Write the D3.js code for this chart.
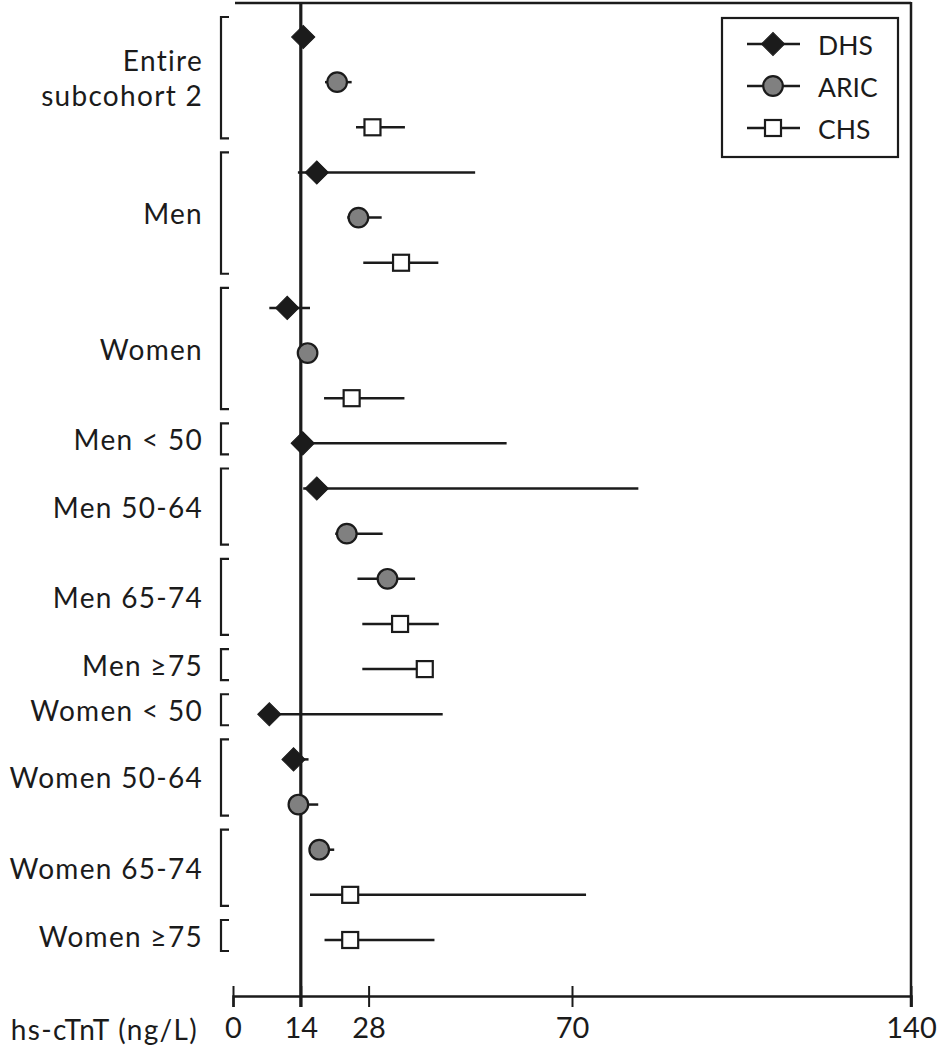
<!DOCTYPE html>
<html>
<head>
<meta charset="utf-8">
<script src="https://cdn.jsdelivr.net/npm/d3@7"></script>
<style>
  html, body { margin: 0; padding: 0; background: #fff; }
  svg { display: block; font-family: Lato, "Open Sans", sans-serif; }
</style>
</head>
<body>
<svg id="chart" width="946" height="1050"></svg>
<script>
// ---- data ----
const series = ["DHS", "ARIC", "CHS"];
const groups = ["Entire|subcohort 2", "Men", "Women", "Men < 50", "Men 50-64", "Men 65-74", "Men ≥75",
                "Women < 50", "Women 50-64", "Women 65-74", "Women ≥75"];
const rowGroup  = [0,0,0, 1,1,1, 2,2,2, 3, 4,4, 5,5, 6, 7, 8,8, 9,9, 10];
const rowSeries = ["DHS","ARIC","CHS", "DHS","ARIC","CHS", "DHS","ARIC","CHS", "DHS",
                   "DHS","ARIC", "ARIC","CHS", "CHS", "DHS", "DHS","ARIC", "ARIC","CHS", "CHS"];
const estimate  = [14.5,21.5,28.8, 17.3,25.9,34.7, 11.2,15.4,24.5, 14.4,
                   17.3,23.5, 31.9,34.5, 39.6, 7.5, 12.5,13.5, 17.8,24.2, 24.2];
const lower     = [13.5,19.0,25.4, 13.4,23.6,26.9, 7.5,14.5,18.8, 14.4,
                   14.5,21.1, 25.7,26.7, 26.7, 7.5, 11.8,12.5, 16.5,15.9, 18.9];
const upper     = [15.5,24.5,35.5, 50.0,30.7,42.4, 15.9,16.5,35.4, 56.5,
                   83.7,30.9, 37.6,42.5, 39.6, 43.3, 15.6,17.6, 20.9,72.9, 41.6];
const tickValues = [0, 14, 28, 70, 140];
const refValue = 14;
const axisTitle = "hs-cTnT (ng/L)";

// ---- layout ----
const ink = "#1b1b1b";
const labelFont = 28, labelSpacing = 1.3;
const svg = d3.select("#chart");
const x = d3.scaleLinear().domain([0, 140]).range([233, 911]);
const y = d3.scalePoint().domain(d3.range(rowGroup.length)).range([37, 940]);
const plotTop = 3, axisY = 996;

function drawMarker(g, s) {
  if (s === "DHS") {
    g.append("rect").attr("x", -8.2).attr("y", -8.2).attr("width", 16.4).attr("height", 16.4)
      .attr("transform", "rotate(45)").attr("fill", ink).attr("stroke", ink).attr("stroke-width", 1);
  } else if (s === "ARIC") {
    g.append("circle").attr("r", 9.8).attr("fill", "#808080").attr("stroke", ink).attr("stroke-width", 2.2);
  } else {
    g.append("rect").attr("x", -8).attr("y", -8).attr("width", 16).attr("height", 16)
      .attr("fill", "#fff").attr("stroke", ink).attr("stroke-width", 2.2);
  }
}

// frame: top and right
svg.append("line").attr("x1", x(0) + 2).attr("x2", x(140)).attr("y1", plotTop).attr("y2", plotTop)
  .attr("stroke", ink).attr("stroke-width", 2.5);
svg.append("line").attr("x1", x(140)).attr("x2", x(140)).attr("y1", plotTop - 1).attr("y2", axisY + 11)
  .attr("stroke", ink).attr("stroke-width", 2.5);

// axis
const axisG = svg.append("g").attr("transform", `translate(0,${axisY})`)
  .call(d3.axisBottom(x).tickValues(tickValues).tickSizeOuter(0).tickSize(11).tickPadding(10));
axisG.select(".domain").attr("stroke", ink).attr("stroke-width", 2.5);
axisG.selectAll(".tick line").attr("y1", -10).attr("y2", 11).attr("stroke", ink).attr("stroke-width", 2);
axisG.selectAll(".tick text").attr("font-size", 29).attr("fill", ink)
  .attr("font-family", "Lato, sans-serif");
svg.append("text").attr("x", 198).attr("y", 1029).attr("text-anchor", "end")
  .attr("dominant-baseline", "central").attr("font-size", labelFont)
  .attr("letter-spacing", labelSpacing).attr("fill", ink).text(axisTitle);

// reference line
svg.append("line").attr("x1", x(refValue)).attr("x2", x(refValue)).attr("y1", plotTop).attr("y2", axisY + 11)
  .attr("stroke", ink).attr("stroke-width", 3.2);

// brackets and group labels
groups.forEach((name, gi) => {
  const rows = d3.range(rowGroup.length).filter(i => rowGroup[i] === gi);
  const top = y(rows[0]) - 20, bot = y(rows[rows.length - 1]) + 11;
  svg.append("path")
    .attr("d", `M229,${top}H221V${bot}H229`)
    .attr("fill", "none").attr("stroke", ink).attr("stroke-width", 2.2);
  const mid = (top + bot) / 2;
  const lines = name.split("|");
  const lh = 35;
  lines.forEach((ln, li) => {
    svg.append("text").attr("x", 203).attr("y", mid + (li - (lines.length - 1) / 2) * lh)
      .attr("text-anchor", "end").attr("dominant-baseline", "central")
      .attr("font-size", labelFont).attr("letter-spacing", labelSpacing)
      .attr("fill", ink).text(ln);
  });
});

// CI lines
const idx = d3.range(rowGroup.length);
svg.append("g").selectAll("line").data(idx).join("line")
  .attr("x1", i => x(lower[i])).attr("x2", i => x(upper[i]))
  .attr("y1", i => y(i)).attr("y2", i => y(i))
  .attr("stroke", ink).attr("stroke-width", 2.5);

// markers
svg.append("g").selectAll("g").data(idx).join("g")
  .attr("transform", i => `translate(${x(estimate[i])},${y(i)})`)
  .each(function(i) { drawMarker(d3.select(this), rowSeries[i]); });

// legend
const lg = svg.append("g");
lg.append("rect").attr("x", 722).attr("y", 18).attr("width", 176).attr("height", 139)
  .attr("fill", "#fff").attr("stroke", ink).attr("stroke-width", 2.2);
const legY = d3.scalePoint().domain(series).range([44, 128]);
series.forEach(s => {
  const yy = legY(s);
  lg.append("line").attr("x1", 747).attr("x2", 800).attr("y1", yy).attr("y2", yy)
    .attr("stroke", ink).attr("stroke-width", 2.5);
  const m = lg.append("g").attr("transform", `translate(773,${yy})`);
  drawMarker(m, s);
  lg.append("text").attr("x", 818).attr("y", yy + 1).attr("dominant-baseline", "central")
    .attr("font-size", 26.5).attr("fill", ink).text(s);
});
</script>
</body>
</html>
